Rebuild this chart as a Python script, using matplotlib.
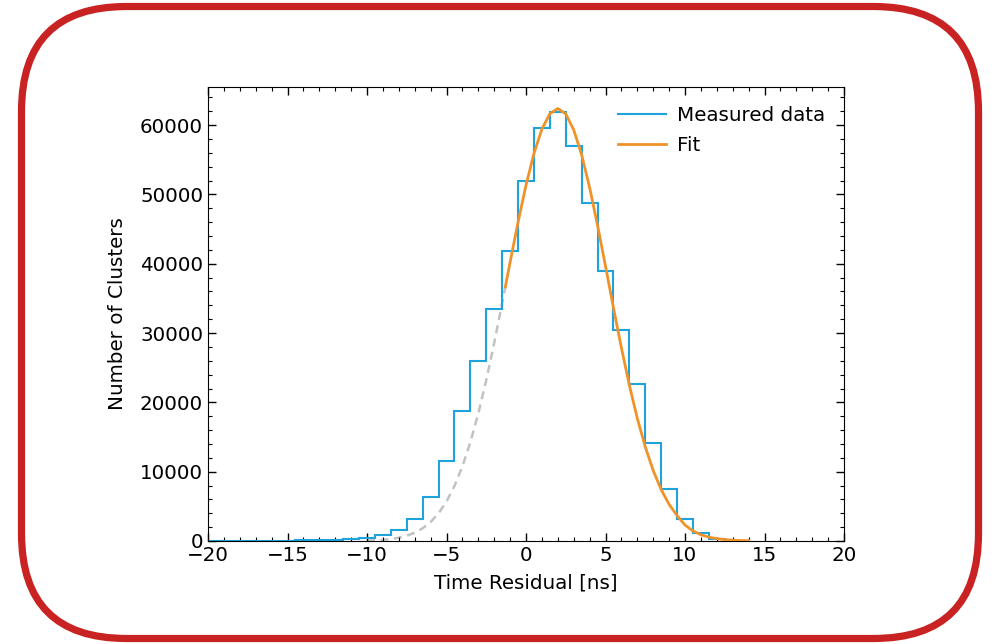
"""Time residual histogram with fit, inside a rounded red frame."""

import matplotlib

matplotlib.use("Agg")
import matplotlib.pyplot as plt
import numpy as np
from matplotlib.patches import FancyBboxPatch

plt.rcParams["font.family"] = ["DejaVu Sans"]

# Histogram: bin centres [ns] and counts (bin width 1 ns)
BIN_CENTERS = list(range(-20, 14))
BIN_WIDTH = 1.0
COUNTS = [
    30, 30, 40, 40, 50, 70, 100, 140, 200, 300,        # -20 .. -11
    480, 900, 1600, 3200, 6300, 11600, 18700, 25900,   # -10 .. -3
    33500, 41900, 52000, 59600, 61900, 57000, 48700,   # -2 .. 4
    38900, 30400, 22600, 14200, 7500, 3200, 1100,      # 5 .. 11
    250, 50,                                           # 12 .. 13
]

# Fit curve: extrapolated part (dashed) and fitted range
EXTRAP_X = [-10, -9.5, -9, -8.5, -8, -7.5, -7, -6.5, -6, -5.5, -5, -4.5,
            -4, -3.5, -3, -2.5, -2, -1.5, -1.3]
EXTRAP_Y = [55, 98, 170, 287, 472, 760, 1195, 1836, 2740, 4000, 5700, 7930,
            10760, 14250, 18410, 23210, 28580, 34320, 36660]
FIT_X = [-1.3, -1, -0.5, 0, 0.5, 1, 1.5, 2, 2.5, 3, 3.5, 4, 4.5, 5, 5.5,
         6, 6.5, 7, 7.5, 8, 8.5, 9, 9.5, 10, 10.5, 11, 11.5, 12, 12.5,
         13, 13.5, 14]
FIT_Y = [36660, 40220, 45990, 51330, 55910, 59430, 61640, 62400, 61620,
         59330, 55710, 51010, 45540, 39650, 33660, 27870, 22490, 17700,
         13590, 10170, 7420, 5290, 3670, 2300, 1450, 900, 560, 340, 200,
         115, 65, 35]

BLUE = "#1fa3dd"
ORANGE = "#f0922a"
GREY = "#c2c2c2"
FRAME_RED = "#c92222"
FS = 14.3


def main() -> None:
    fig = plt.figure(figsize=(9.98, 6.44), dpi=100)
    ax = fig.add_axes([208 / 998, 1 - 541 / 644, 636 / 998, 454 / 644])

    centers = np.asarray(BIN_CENTERS, dtype=float)
    edges = np.append(centers - BIN_WIDTH / 2, centers[-1] + BIN_WIDTH / 2)
    ax.stairs(COUNTS, edges, color=BLUE, linewidth=1.5,
              label="Measured data", zorder=2)
    ax.plot(EXTRAP_X, EXTRAP_Y, color=GREY, linewidth=1.8,
            linestyle=(0, (3.2, 2.2)), zorder=1)
    ax.plot(FIT_X, FIT_Y, color=ORANGE, linewidth=2.0, label="Fit", zorder=3)

    ax.set_xlim(-20, 20)
    ax.set_ylim(0, 65500)
    ax.set_xticks(range(-20, 21, 5))
    ax.set_yticks(range(0, 60001, 10000))
    ax.xaxis.set_minor_locator(matplotlib.ticker.MultipleLocator(1))
    ax.yaxis.set_minor_locator(matplotlib.ticker.MultipleLocator(2000))
    ax.tick_params(which="both", direction="in", top=True, right=True,
                   labelsize=FS)
    ax.tick_params(which="major", length=6, width=1)
    ax.tick_params(which="minor", length=3, width=0.8)

    ax.set_xlabel("Time Residual [ns]", fontsize=FS, labelpad=6)
    ax.set_ylabel("Number of Clusters", fontsize=FS, labelpad=9)

    ax.legend(loc="upper right", frameon=False, fontsize=FS,
              handlelength=2.4, borderaxespad=0.55, handletextpad=0.55,
              labelspacing=0.55)

    # Rounded red frame drawn in pixel-like coordinates over the whole figure
    frame_ax = fig.add_axes([0, 0, 1, 1], zorder=10)
    frame_ax.set_xlim(0, 998)
    frame_ax.set_ylim(644, 0)
    frame_ax.axis("off")
    frame_ax.patch.set_alpha(0)
    frame = FancyBboxPatch(
        (21.5, 6.5),
        957,
        632,
        boxstyle="round,pad=0,rounding_size=105",
        facecolor="none",
        edgecolor=FRAME_RED,
        linewidth=5.2,
    )
    frame_ax.add_patch(frame)

    fig.savefig("out.png", dpi=100)


if __name__ == "__main__":
    main()
